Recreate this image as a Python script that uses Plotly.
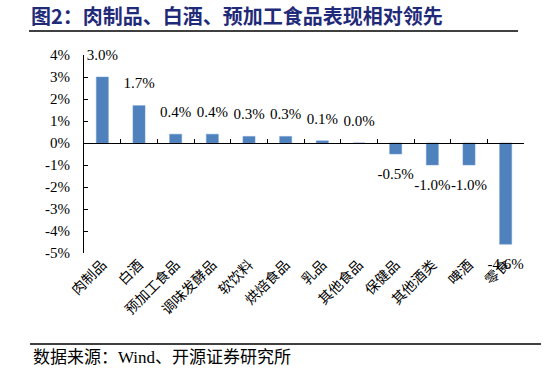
import plotly.graph_objects as go

categories = ["肉制品", "白酒", "预加工食品", "调味发酵品", "软饮料", "烘焙食品",
              "乳品", "其他食品", "保健品", "其他酒类", "啤酒", "零食"]
values = [3.0, 1.7, 0.4, 0.4, 0.3, 0.3, 0.1, 0.0, -0.5, -1.0, -1.0, -4.6]
ytick_vals = [4, 3, 2, 1, 0, -1, -2, -3, -4, -5]
ytick_text = ["4%", "3%", "2%", "1%", "0%", "-1%", "-2%", "-3%", "-4%", "-5%"]
title_text = "图2：肉制品、白酒、预加工食品表现相对领先"
source_text = "数据来源：Wind、开源证券研究所"

W, H = 546, 374
L, R, T, B = 84, 22, 55, 121
pw, ph = W - L - R, H - T - B

def px(x):
    return (x - L) / pw

def py(y):
    return (H - B - y) / ph

serif = "Liberation Serif, Times New Roman, serif"
cjk = "Noto Sans CJK SC"

fig = go.Figure()
fig.add_trace(go.Bar(
    x=categories, y=values, width=0.33,
    marker=dict(color="#4F81BD", line=dict(color="#6F9BD0", width=0.5)),
    showlegend=False, hoverinfo="x+y",
))
# data labels
fig.add_trace(go.Scatter(
    x=categories, y=values, mode="markers+text",
    marker=dict(size=20, opacity=0),
    text=[f"{v:.1f}%" for v in values],
    textposition=["bottom center" if v < 0 else "top center" for v in values],
    textfont=dict(family=serif, size=15, color="black"),
    cliponaxis=False, showlegend=False, hoverinfo="skip",
))
# helper trace for the category axis drawn at zero
fig.add_trace(go.Scatter(x=categories, y=[0] * len(categories), xaxis="x2",
                         mode="markers", marker=dict(opacity=0), showlegend=False,
                         hoverinfo="skip"))

zero_pos = (0 - (-5)) / 9

fig.update_layout(
    width=W, height=H,
    margin=dict(l=L, r=R, t=T, b=B),
    paper_bgcolor="white", plot_bgcolor="white",
    xaxis=dict(range=[-0.5, 11.5], tickangle=-45, showline=False, ticks="",
               tickfont=dict(family=cjk, size=14, color="black"),
               showgrid=False, zeroline=False),
    xaxis2=dict(range=[-0.5, 11.5], overlaying="x", anchor="free", position=zero_pos,
                side="bottom", showline=True, linecolor="black", linewidth=1,
                ticks="inside", ticklen=4, tickcolor="black", tickson="boundaries",
                showticklabels=False, showgrid=False, zeroline=False),
    yaxis=dict(range=[-5, 4], tickvals=ytick_vals, ticktext=ytick_text,
               showline=True, linecolor="black", linewidth=1,
               ticks="inside", ticklen=4, tickcolor="black", ticklabelstandoff=10,
               tickfont=dict(family=serif, size=15, color="black"),
               showgrid=False, zeroline=False),
    shapes=[
        dict(type="line", xref="paper", yref="paper", x0=px(29), x1=px(518),
             y0=py(31), y1=py(31), line=dict(color="black", width=1.5)),
        dict(type="line", xref="paper", yref="paper", x0=px(30), x1=px(541),
             y0=py(344), y1=py(344), line=dict(color="black", width=1.5)),
    ],
    annotations=[
        dict(text="<b>" + title_text + "</b>", xref="paper", yref="paper",
             x=px(29), y=py(16), xanchor="left", yanchor="middle", showarrow=False,
             font=dict(family=cjk, size=20, color="#1F2A78")),
        dict(text=source_text, xref="paper", yref="paper",
             x=px(31), y=py(357), xanchor="left", yanchor="middle", showarrow=False,
             font=dict(family=serif + ", " + cjk, size=17, color="black")),
    ],
)

fig.write_html("out.html", config={"displayModeBar": False},
               post_script="document.body.style.margin='0px';")
